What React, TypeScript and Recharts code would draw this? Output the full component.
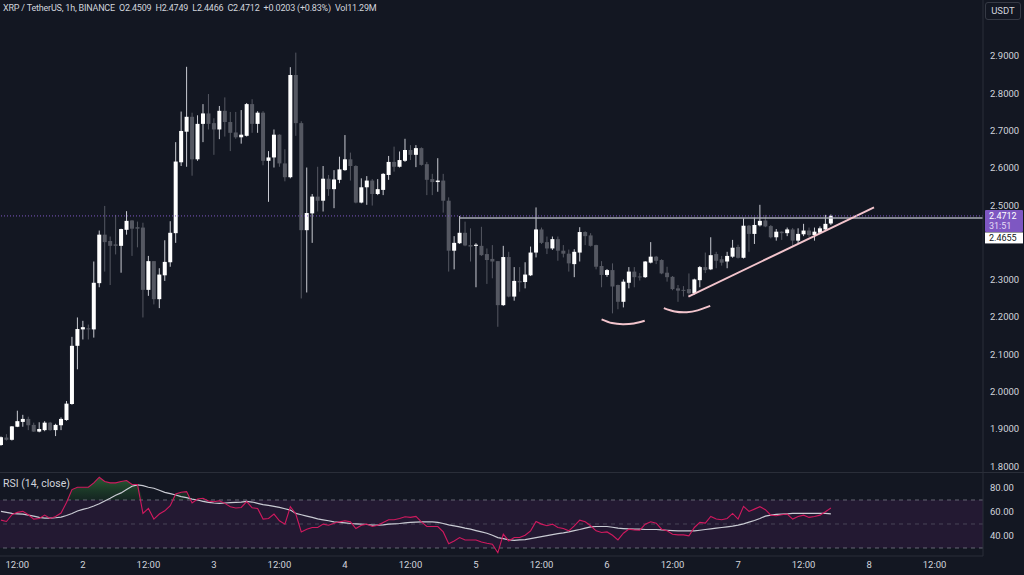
import React from 'react';
import { ComposedChart, Bar, Line, Area, XAxis, YAxis, ReferenceLine, ReferenceArea } from 'recharts';

// hourly candles, XRP/USDT
const opens = [
  1.857, 1.877, 1.871, 1.906, 1.919, 1.927, 1.911, 1.893, 1.897, 1.917, 1.897, 1.910, 1.924, 1.967, 2.123, 2.167, 2.170, 2.167, 2.291, 2.421,
  2.404, 2.395, 2.391, 2.434, 2.459, 2.441, 2.440, 2.273, 2.350, 2.248, 2.312, 2.347, 2.425, 2.615, 2.697, 2.737, 2.623, 2.718, 2.746, 2.720,
  2.703, 2.753, 2.723, 2.695, 2.682, 2.686, 2.771, 2.718, 2.748, 2.619, 2.628, 2.689, 2.612, 2.575, 2.849, 2.720, 2.433, 2.478, 2.523, 2.512,
  2.571, 2.543, 2.568, 2.594, 2.623, 2.605, 2.507, 2.548, 2.566, 2.530, 2.541, 2.581, 2.616, 2.603, 2.619, 2.648, 2.635, 2.653, 2.610, 2.570,
  2.562, 2.566, 2.512, 2.378, 2.398, 2.426, 2.393, 2.391, 2.391, 2.369, 2.356, 2.350, 2.232, 2.361, 2.255, 2.297, 2.294, 2.312, 2.373, 2.435,
  2.401, 2.384, 2.409, 2.378, 2.370, 2.342, 2.373, 2.428, 2.419, 2.393, 2.337, 2.313, 2.326, 2.286, 2.241, 2.292, 2.322, 2.309, 2.307, 2.346,
  2.362, 2.353, 2.319, 2.308, 2.277, 2.273, 2.275, 2.264, 2.299, 2.334, 2.328, 2.369, 2.355, 2.349, 2.362, 2.388, 2.359, 2.445, 2.423, 2.446,
  2.459, 2.444, 2.414, 2.429, 2.425, 2.435, 2.405, 2.422, 2.432, 2.420, 2.426, 2.435, 2.4509,
];
const highs = [
  1.880, 1.886, 1.908, 1.949, 1.938, 1.933, 1.917, 1.918, 1.921, 1.919, 1.914, 1.931, 1.975, 2.147, 2.199, 2.190, 2.180, 2.349, 2.432, 2.498,
  2.416, 2.474, 2.437, 2.484, 2.460, 2.456, 2.453, 2.364, 2.350, 2.331, 2.406, 2.457, 2.669, 2.751, 2.871, 2.748, 2.741, 2.771, 2.798, 2.733,
  2.766, 2.789, 2.750, 2.750, 2.755, 2.774, 2.784, 2.752, 2.752, 2.645, 2.703, 2.690, 2.650, 2.870, 2.909, 2.725, 2.601, 2.530, 2.603, 2.605,
  2.581, 2.594, 2.630, 2.688, 2.641, 2.607, 2.572, 2.578, 2.570, 2.570, 2.586, 2.632, 2.657, 2.644, 2.678, 2.661, 2.661, 2.655, 2.616, 2.584,
  2.626, 2.584, 2.521, 2.417, 2.471, 2.456, 2.438, 2.398, 2.442, 2.384, 2.393, 2.350, 2.391, 2.375, 2.334, 2.334, 2.347, 2.389, 2.494, 2.440,
  2.416, 2.416, 2.416, 2.393, 2.381, 2.382, 2.441, 2.430, 2.425, 2.394, 2.350, 2.329, 2.344, 2.287, 2.301, 2.334, 2.334, 2.318, 2.350, 2.401,
  2.364, 2.355, 2.335, 2.310, 2.286, 2.283, 2.317, 2.303, 2.337, 2.373, 2.414, 2.375, 2.364, 2.375, 2.407, 2.394, 2.465, 2.447, 2.467, 2.501,
  2.474, 2.447, 2.436, 2.430, 2.440, 2.439, 2.438, 2.450, 2.440, 2.440, 2.443, 2.474, 2.4749,
];
const lows = [
  1.855, 1.869, 1.869, 1.905, 1.906, 1.897, 1.892, 1.891, 1.894, 1.895, 1.881, 1.897, 1.922, 1.965, 2.060, 2.140, 2.140, 2.145, 2.280, 2.322,
  2.286, 2.368, 2.319, 2.421, 2.364, 2.387, 2.199, 2.257, 2.234, 2.224, 2.297, 2.335, 2.399, 2.605, 2.603, 2.579, 2.619, 2.669, 2.703, 2.635,
  2.677, 2.684, 2.645, 2.678, 2.665, 2.684, 2.694, 2.694, 2.607, 2.509, 2.601, 2.603, 2.564, 2.572, 2.686, 2.250, 2.266, 2.399, 2.483, 2.483,
  2.525, 2.492, 2.559, 2.592, 2.566, 2.505, 2.505, 2.501, 2.499, 2.527, 2.527, 2.568, 2.590, 2.601, 2.616, 2.621, 2.602, 2.606, 2.527, 2.527,
  2.536, 2.480, 2.322, 2.328, 2.396, 2.390, 2.349, 2.280, 2.364, 2.289, 2.304, 2.174, 2.230, 2.253, 2.244, 2.268, 2.277, 2.310, 2.360, 2.396,
  2.369, 2.380, 2.351, 2.360, 2.322, 2.307, 2.349, 2.393, 2.389, 2.328, 2.280, 2.308, 2.210, 2.221, 2.226, 2.277, 2.280, 2.298, 2.305, 2.344,
  2.342, 2.315, 2.295, 2.272, 2.241, 2.255, 2.260, 2.260, 2.280, 2.318, 2.326, 2.331, 2.338, 2.331, 2.359, 2.357, 2.357, 2.375, 2.396, 2.443,
  2.441, 2.411, 2.405, 2.407, 2.417, 2.391, 2.398, 2.417, 2.415, 2.405, 2.423, 2.433, 2.4466,
];
const closes = [
  1.878, 1.871, 1.907, 1.921, 1.927, 1.910, 1.893, 1.900, 1.917, 1.897, 1.911, 1.927, 1.968, 2.123, 2.168, 2.173, 2.167, 2.292, 2.421, 2.401,
  2.391, 2.391, 2.436, 2.458, 2.437, 2.437, 2.273, 2.350, 2.248, 2.314, 2.348, 2.426, 2.617, 2.699, 2.737, 2.623, 2.718, 2.746, 2.718, 2.703,
  2.753, 2.723, 2.694, 2.682, 2.689, 2.771, 2.718, 2.748, 2.619, 2.628, 2.689, 2.612, 2.575, 2.849, 2.720, 2.433, 2.479, 2.523, 2.512, 2.571,
  2.543, 2.569, 2.596, 2.623, 2.605, 2.507, 2.548, 2.566, 2.530, 2.543, 2.584, 2.616, 2.603, 2.621, 2.648, 2.635, 2.653, 2.608, 2.568, 2.562,
  2.566, 2.512, 2.378, 2.399, 2.426, 2.392, 2.389, 2.394, 2.366, 2.353, 2.349, 2.232, 2.361, 2.255, 2.297, 2.293, 2.314, 2.373, 2.435, 2.399,
  2.384, 2.409, 2.378, 2.370, 2.344, 2.375, 2.428, 2.417, 2.391, 2.335, 2.313, 2.326, 2.282, 2.241, 2.295, 2.322, 2.307, 2.307, 2.349, 2.362,
  2.351, 2.317, 2.307, 2.275, 2.271, 2.271, 2.264, 2.301, 2.334, 2.326, 2.366, 2.351, 2.346, 2.364, 2.386, 2.359, 2.445, 2.423, 2.447, 2.458,
  2.443, 2.414, 2.429, 2.425, 2.435, 2.405, 2.423, 2.432, 2.420, 2.429, 2.438, 2.450, 2.4712,
];

// RSI(14) and its moving average
const rsiValues = [
  53.2, 52.1, 57.7, 59.7, 60.5, 57.7, 54.1, 54.6, 57.4, 54.6, 56.3, 59.1, 68.0, 78.7, 80.6, 80.6, 80.6, 84.3, 89.0, 85.4,
  84.3, 84.3, 85.4, 86.2, 82.9, 82.9, 58.8, 63.0, 54.1, 58.3, 61.0, 65.2, 75.0, 76.4, 77.0, 67.5, 70.8, 71.4, 69.2, 68.6,
  69.4, 67.2, 64.4, 63.3, 63.8, 68.6, 63.5, 63.0, 54.1, 54.6, 58.3, 52.7, 49.9, 64.4, 58.3, 43.4, 45.7, 47.1, 47.1, 49.9,
  49.0, 50.7, 51.8, 52.7, 51.8, 46.2, 49.0, 49.9, 47.9, 49.0, 51.3, 53.5, 53.5, 54.6, 56.0, 55.5, 56.3, 51.8, 47.9, 47.9,
  47.9, 43.4, 33.6, 35.9, 38.7, 36.7, 36.7, 36.7, 35.0, 33.9, 33.1, 26.0, 41.5, 35.9, 38.7, 38.7, 40.6, 44.3, 52.1, 49.9,
  48.5, 49.9, 47.1, 46.2, 44.3, 48.5, 53.2, 51.8, 48.5, 44.3, 42.9, 43.4, 40.6, 36.7, 42.3, 45.7, 45.1, 44.8, 49.9, 51.8,
  50.7, 45.7, 44.3, 41.5, 40.9, 40.9, 40.1, 47.1, 51.3, 50.7, 56.3, 54.1, 53.5, 54.6, 58.8, 54.1, 64.7, 60.5, 62.4, 64.4,
  61.9, 57.4, 56.9, 57.7, 58.3, 54.1, 56.3, 57.4, 55.5, 56.3, 57.4, 60.2, 63.3,
];
const rsiMaValues = [
  60.5, 59.7, 58.8, 58.5, 58.3, 57.4, 56.6, 55.5, 54.9, 54.9, 55.2, 55.7, 57.1, 58.8, 60.8, 62.2, 63.3, 65.0, 66.9, 69.2,
  71.4, 73.9, 75.9, 78.7, 81.5, 82.6, 82.0, 80.6, 79.8, 78.1, 76.4, 75.3, 74.2, 72.8, 72.0, 70.8, 70.0, 68.9, 68.0, 67.5,
  67.2, 67.5, 67.8, 68.0, 68.3, 68.9, 68.3, 67.2, 66.1, 65.5, 64.7, 63.8, 62.7, 61.6, 58.8, 57.7, 56.6, 55.5, 54.3, 53.5,
  52.7, 51.8, 51.3, 51.0, 50.4, 50.1, 49.9, 49.6, 49.0, 49.0, 49.3, 49.9, 50.1, 50.4, 51.0, 51.3, 51.5, 51.8, 51.8, 51.8,
  51.3, 50.4, 49.3, 48.5, 47.6, 46.5, 45.7, 44.5, 43.4, 42.3, 40.6, 38.7, 37.8, 36.7, 36.4, 36.7, 37.0, 37.8, 38.7, 39.5,
  40.3, 41.2, 42.0, 42.6, 43.4, 44.5, 45.4, 46.5, 47.6, 47.9, 47.9, 47.9, 47.3, 46.5, 46.2, 45.9, 45.7, 45.7, 45.4, 45.4,
  45.4, 45.1, 44.8, 44.5, 44.3, 44.3, 44.3, 44.3, 44.8, 45.4, 45.9, 46.5, 47.1, 47.6, 48.2, 49.0, 50.1, 51.5, 52.9, 54.6,
  56.6, 57.4, 58.0, 58.3, 58.5, 58.8, 58.8, 58.8, 58.8, 58.8, 58.8, 58.8, 58.5,
];

const timeTicks = [3, 15, 27, 39, 51, 63, 75, 87, 99, 111, 123, 135, 147, 159, 171];
const timeLabels = ['12:00', '2', '12:00', '3', '12:00', '4', '12:00', '5', '12:00', '6', '12:00', '7', '12:00', '8', '12:00'];
// 2.4000 sits under the price tags, so it is left out
const priceTicks = [1.8, 1.9, 2.0, 2.1, 2.2, 2.3, 2.5, 2.6, 2.7, 2.8, 2.9];
const rsiTicks = [40, 60, 80];
const rsiLevels = [70, 50, 30];

// drawings
const rayLevel = 2.4655;
const rayStart = 84;
const trendFrom = { x: 125.9, y: 2.255 };
const trendTo = { x: 159.9, y: 2.494 };
const arcLeftX = [110.0, 111.9, 113.9, 115.9, 117.9];
const arcLeftP = [2.194, 2.184, 2.181, 2.183, 2.190];
const arcRightX = [121.4, 123.4, 125.6, 127.6, 129.9];
const arcRightP = [2.224, 2.215, 2.213, 2.218, 2.230];
const countdown = '31:51';

const rows = opens.map((o, i) => ({
  i,
  open: o,
  high: highs[i],
  low: lows[i],
  close: closes[i],
  rsi: rsiValues[i],
  ma: rsiMaValues[i],
}));
const arcLeft = arcLeftX.map((x, k) => ({ i: x, p: arcLeftP[k] }));
const arcRight = arcRightX.map((x, k) => ({ i: x, p: arcRightP[k] }));
const lastClose = closes[closes.length - 1];

const BG = '#131722';
const BORDER = '#2a2e39';
const TEXT = '#d1d4dc';
const FONT = 'Roboto, "Liberation Sans", sans-serif';
const FS = 9.5;
const X_DOMAIN: [number, number] = [-0.183, 179.86];
const PINK = '#f2c4cc';
const BODY_W = 4;

function Candle(props: any) {
  const { x, y, width, height, payload } = props;
  if (x == null || y == null || !payload) return null;
  const { open, close, high, low } = payload;
  const top = Math.min(y, y + height);
  const h = Math.abs(height);
  const ppu = h / (high - low || 1);
  const up = close >= open;
  const bodyTop = top + (high - Math.max(open, close)) * ppu;
  const bodyH = Math.max(1, Math.abs(close - open) * ppu);
  const cx = x + (width || 0) / 2;
  return (
    <g>
      <line x1={cx} x2={cx} y1={top} y2={top + h} stroke={up ? '#c9cbd2' : '#555862'} strokeWidth={1} />
      <rect x={cx - BODY_W / 2} y={bodyTop} width={BODY_W} height={bodyH} fill={up ? '#ffffff' : '#555862'} />
    </g>
  );
}

function PriceTags(props: any) {
  const vb = props.viewBox;
  if (!vb) return null;
  const x = vb.x + vb.width + 2;
  const y = vb.y;
  return (
    <g fontFamily={FONT} fontSize={9}>
      <rect x={x} y={y - 6} width={38} height={22} fill="#7e57c2" rx={1} />
      <text x={x + 4} y={y + 3} fill="#ffffff">{lastClose.toFixed(4)}</text>
      <text x={x + 4} y={y + 13.5} fill="#e4dcf5">{countdown}</text>
      <rect x={x} y={y + 16.5} width={38} height={11} fill="#ffffff" />
      <text x={x + 4} y={y + 25.2} fill="#131722">{rayLevel.toFixed(4)}</text>
    </g>
  );
}

export default function App() {
  const labelFor = (v: number) => {
    const k = timeTicks.indexOf(v);
    return k >= 0 ? timeLabels[k] : '';
  };
  return (
    <div style={{ position: 'absolute', left: 0, top: 0, width: 1024, height: 575, background: BG, overflow: 'hidden', fontFamily: FONT, color: TEXT }}>
      <div style={{ position: 'absolute', left: 0, top: 0 }}>
        <ComposedChart width={1024} height={472} data={rows} margin={{ top: 0, right: 0, bottom: 0, left: 0 }}>
          <XAxis dataKey="i" type="number" domain={X_DOMAIN} allowDataOverflow hide />
          <YAxis
            orientation="right"
            width={41}
            domain={[1.7847, 3.0501]}
            allowDataOverflow
            ticks={priceTicks}
            interval={0}
            tickFormatter={(v: number) => v.toFixed(4)}
            tick={{ fill: TEXT, fontSize: FS, fontFamily: FONT }}
            tickLine={false}
            tickSize={0}
            tickMargin={7}
            axisLine={{ stroke: BORDER }}
          />
          <Bar dataKey={(d: any) => [d.low, d.high]} barSize={4} shape={<Candle />} isAnimationActive={false} />
          <ReferenceLine
            segment={[{ x: rayStart, y: rayLevel }, { x: X_DOMAIN[1], y: rayLevel }]}
            stroke="#a9acb5"
            strokeWidth={1.5}
          />
          <ReferenceLine segment={[trendFrom, trendTo]} stroke={PINK} strokeWidth={2} />
          <Line data={arcLeft} dataKey="p" type="natural" stroke={PINK} strokeWidth={2} dot={false} activeDot={false} isAnimationActive={false} />
          <Line data={arcRight} dataKey="p" type="natural" stroke={PINK} strokeWidth={2} dot={false} activeDot={false} isAnimationActive={false} />
          <ReferenceLine y={lastClose} stroke="#7e57c2" strokeDasharray="1 2" label={<PriceTags />} />
        </ComposedChart>
      </div>

      <div style={{ position: 'absolute', left: 0, top: 472, width: 1024, height: 1, background: BORDER }} />

      <div style={{ position: 'absolute', left: 0, top: 473 }}>
        <ComposedChart width={1024} height={102} data={rows} margin={{ top: 0, right: 0, bottom: 0, left: 0 }}>
          <defs>
            <linearGradient id="obFill" x1="0" y1="0" x2="0" y2="1">
              <stop offset="0%" stopColor="#3f9a45" stopOpacity={0.9} />
              <stop offset="100%" stopColor="#1d5e24" stopOpacity={0.35} />
            </linearGradient>
          </defs>
          <XAxis
            dataKey="i"
            type="number"
            domain={X_DOMAIN}
            allowDataOverflow
            ticks={timeTicks}
            interval={0}
            tickFormatter={labelFor}
            height={19}
            tick={{ fill: TEXT, fontSize: FS, fontFamily: FONT }}
            tickLine={false}
            tickSize={0}
            tickMargin={5}
            axisLine={{ stroke: BORDER }}
          />
          <YAxis
            orientation="right"
            width={41}
            domain={[23.33, 92.5]}
            allowDataOverflow
            ticks={rsiTicks}
            interval={0}
            tickFormatter={(v: number) => v.toFixed(2)}
            tick={{ fill: TEXT, fontSize: FS, fontFamily: FONT }}
            tickLine={false}
            tickSize={0}
            tickMargin={7}
            axisLine={{ stroke: BORDER }}
          />
          <ReferenceArea y1={30} y2={70} fill="#9c27b0" fillOpacity={0.12} stroke="none" />
          {rsiLevels.map((l) => (
            <ReferenceLine key={l} y={l} stroke="#787b86" strokeDasharray="4 4" strokeOpacity={l === 50 ? 0.45 : 0.8} />
          ))}
          <Area dataKey={(d: any) => [70, Math.max(70, d.rsi)]} type="linear" fill="url(#obFill)" stroke="none" isAnimationActive={false} />
          <Line dataKey="ma" type="linear" stroke="#c9cbd3" strokeWidth={1.2} dot={false} activeDot={false} isAnimationActive={false} />
          <Line dataKey="rsi" type="linear" stroke="#d0195e" strokeWidth={1.1} dot={false} activeDot={false} isAnimationActive={false} />
        </ComposedChart>
      </div>

      <div style={{ position: 'absolute', left: 3, top: 3, fontSize: 9, letterSpacing: -0.2, whiteSpace: 'pre', color: TEXT }}>
        {'XRP / TetherUS, 1h, BINANCE  O2.4509  H2.4749  L2.4466  C2.4712  +0.0203 (+0.83%)  Vol11.29M'}
      </div>
      <div style={{ position: 'absolute', left: 3, top: 477, fontSize: 10.5, color: TEXT }}>RSI (14, close)</div>
      <div
        style={{
          position: 'absolute',
          left: 985,
          top: 2,
          width: 34,
          height: 16,
          border: '1px solid #363a45',
          borderRadius: 3,
          fontSize: FS,
          lineHeight: '16px',
          textAlign: 'center',
          color: TEXT,
        }}
      >
        USDT
      </div>
    </div>
  );
}
